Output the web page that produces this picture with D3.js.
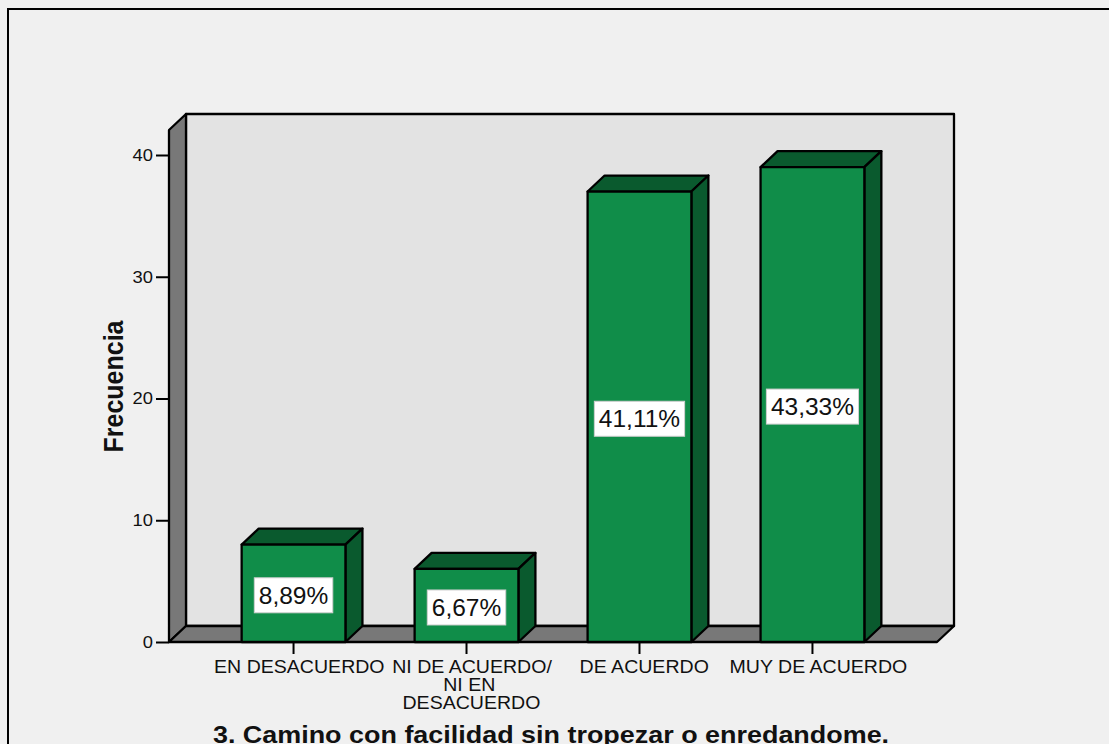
<!DOCTYPE html>
<html><head><meta charset="utf-8">
<script src="https://cdn.jsdelivr.net/npm/d3@7/dist/d3.min.js"></script>
<style>html,body{margin:0;padding:0;background:#f0f0f0;overflow:hidden}svg{display:block}text{font-family:"Liberation Sans",Arial,sans-serif;fill:#111}</style>
</head><body><svg id="c" width="1109" height="744"></svg>
<script>
const categories = [["EN DESACUERDO"],["NI DE ACUERDO/","NI EN","DESACUERDO"],["DE ACUERDO"],["MUY DE ACUERDO"]];
const frequencies = [8,6,37,39];
const percentLabels = ["8,89%","6,67%","41,11%","43,33%"];
const yTicks = [0,10,20,30,40];
const yTitle = "Frecuencia";
const chartTitle = "3. Camino con facilidad sin tropezar o enredandome.";

const dx=17, dy=16, left=169, right=937, floorY=642, topY=130;
const svg=d3.select("#c");
const y=d3.scaleLinear().domain([0,40]).range([floorY,155]);
const x=d3.scaleBand().domain(d3.range(frequencies.length)).range([left,right]).paddingInner(0.4).paddingOuter(0.42);
const ink="#000", sw=2.3;
const poly=(pts,fill)=>svg.append("polygon").attr("points",pts.map(p=>p.join(",")).join(" ")).attr("fill",fill).attr("stroke",ink).attr("stroke-width",sw).attr("stroke-linejoin","round");

svg.append("path").attr("d","M8,744V9H1109").attr("fill","none").attr("stroke",ink).attr("stroke-width",2);
poly([[left+dx,topY-dy],[right+dx,topY-dy],[right+dx,floorY-dy],[left+dx,floorY-dy]],"#e3e3e3");
poly([[left,topY],[left+dx,topY-dy],[left+dx,floorY-dy],[left,floorY]],"#787878");
poly([[left,floorY],[left+dx,floorY-dy],[right+dx,floorY-dy],[right,floorY]],"#787878");

const tickScale=1.08;
const ya=svg.append("g").attr("transform",`translate(${left},0)`).call(d3.axisLeft(y).tickValues(yTicks).tickSize(13).tickPadding(3));
ya.select(".domain").remove();
ya.selectAll("line").attr("stroke",ink).attr("stroke-width",2);
ya.selectAll("text").attr("font-size",17).attr("x",-16/tickScale).attr("transform",`scale(${tickScale},1)`).style("font-family",'"Liberation Sans",Arial,sans-serif');

frequencies.forEach((v,i)=>{
  const x0=x(i), x1=x0+x.bandwidth(), yt=y(v), yb=y(0);
  poly([[x0,yt],[x0+dx,yt-dy],[x1+dx,yt-dy],[x1,yt]],"#0a5a2e");
  poly([[x1,yt],[x1+dx,yt-dy],[x1+dx,yb-dy],[x1,yb]],"#0a5a2e");
  poly([[x0,yt],[x1,yt],[x1,yb],[x0,yb]],"#108d49");
  const cx=(x0+x1)/2, cy=(yt+yb)/2+2;
  const box=svg.append("rect");
  const t=svg.append("text").attr("x",cx).attr("y",cy+8.5).attr("text-anchor","middle").attr("font-size",24.5).text(percentLabels[i]);
  const w=t.node().getComputedTextLength();
  box.attr("x",cx-w/2-4.5).attr("y",cy-17.5).attr("width",w+9).attr("height",35).attr("fill","#fff").attr("stroke","#cfcfcf").attr("stroke-width",1);
  svg.append("line").attr("x1",cx).attr("x2",cx).attr("y1",yb).attr("y2",yb+12).attr("stroke",ink).attr("stroke-width",2);
  categories[i].forEach((ln,k)=>{
    const c=svg.append("text").attr("text-anchor","middle").attr("font-size",18).text(ln);
    const lw=c.node().getComputedTextLength()*1.087;
    c.attr("transform",`translate(${cx+1.5+0.025*lw},${672.7+k*18.3}) scale(1.087,1)`);
  });
});
svg.append("text").attr("transform","translate(122.5,386.5) rotate(-90) scale(1,1.12)").attr("text-anchor","middle").attr("font-size",25).attr("font-weight","bold").text(yTitle);
svg.append("text").attr("transform","translate(551,743) scale(1.122,1)").attr("text-anchor","middle").attr("font-size",24).attr("font-weight","bold").text(chartTitle);
</script></body></html>
